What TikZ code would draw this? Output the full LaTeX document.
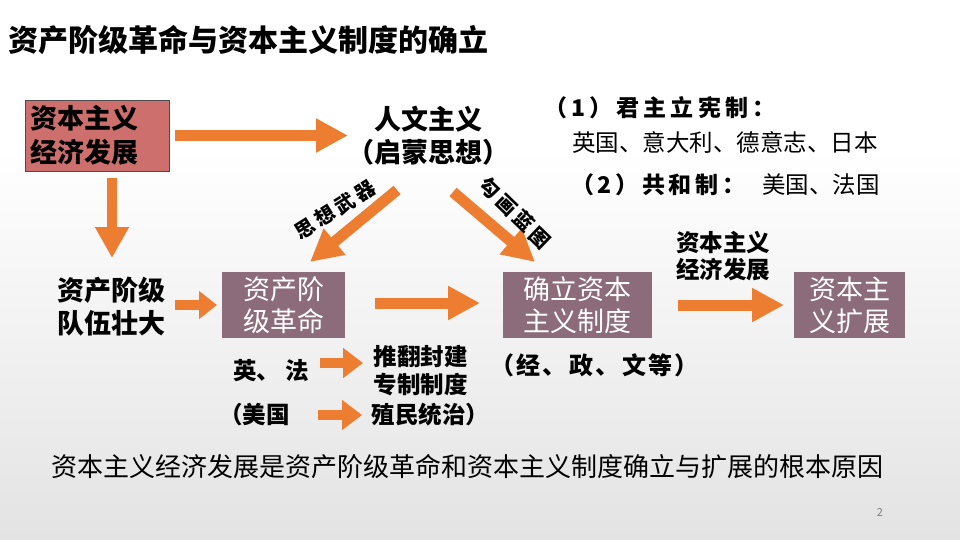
\documentclass[tikz,border=0pt]{standalone}
\usepackage{fontspec}
\newfontfamily\cjk{Noto Sans CJK SC}
\usetikzlibrary{arrows.meta,calc}
\definecolor{arr}{HTML}{ED7D31}
\definecolor{rose}{HTML}{CC6F6D}
\definecolor{mauve}{HTML}{8C6B7B}
\newcommand{\fs}[2]{\fontsize{#1}{#2}\selectfont}
\begin{document}
\begin{tikzpicture}[x=1pt,y=-1pt,
  every node/.style={font=\cjk, inner sep=0pt},
  barrow/.style={draw=arr, line width=11pt, -{Triangle[length=32pt,width=32pt]}},
  sarrow/.style={draw=arr, line width=10pt, -{Triangle[length=20pt,width=29pt]}},
  rosebox/.style={fill=rose, draw=black!70, line width=0.8pt},
  mbox/.style={fill=mauve, text=white, align=center, minimum height=66pt, font=\cjk\fs{27}{32}},
  bigbold/.style={font=\cjk\bfseries\fs{27}{33}, align=center},
  midbold/.style={font=\cjk\bfseries\fs{23.5}{28}, align=center},
  midreg/.style={font=\cjk\fs{23.5}{28}},
  diaglab/.style={font=\cjk\bfseries\fs{20}{24}\addfontfeature{LetterSpace=18}}
]
\useasboundingbox (0,0) rectangle (960,540);
\fill[white] (0,0) rectangle (960,150);
\shade[top color=white, bottom color=gray!22] (0,150) rectangle (960,540);

% title
\node[anchor=west, font=\cjk\bfseries\fs{30}{34}] (title) at (8,40) {资产阶级革命与资本主义制度的确立};

% main nodes
\node[rosebox, minimum width=144pt, minimum height=71pt, text width=134pt, inner xsep=5pt, align=left, font=\cjk\bfseries\fs{27}{34}] (b1) at (97,135.5) {资本主义\\经济发展};
\node[bigbold] (hum) at (428,135.5) {人文主义\\（启蒙思想）};
\node[bigbold] (bourg) at (111,306.5) {资产阶级\\队伍壮大};
\node[mbox, minimum width=123pt] (b2) at (283.5,305) {资产阶\\级革命};
\node[mbox, minimum width=149pt] (b3) at (577.5,305) {确立资本\\主义制度};
\node[mbox, minimum width=111pt] (b4) at (849.5,305) {资本主\\义扩展};
\node[font=\cjk\bfseries\fs{23.5}{27}, align=center] (lab) at (723,256.5) {资本主义\\经济发展};

% right texts
\node[anchor=west, font=\cjk\bfseries\fs{23}{28}\addfontfeature{LetterSpace=18}] (jz) at (544,108) {（1）君主立宪制：};
\node[midreg] (jzc) at (725,142) {英国、意大利、德意志、日本};
\node[anchor=west, font=\cjk\bfseries\fs{23}{28}\addfontfeature{LetterSpace=16}] (gh) at (571,185) {（2）共和制：};
\node[midreg, anchor=west] (ghc) at (762,185) {美国、法国};

% lower texts
\node[midbold] (yf) at (271,371) {英、\hspace{5pt}法};
\node[midbold] (tf) at (420.5,371) {推翻封建\\专制制度};
\node[font=\cjk\bfseries\fs{24}{28}\addfontfeature{LetterSpace=8}] (jz2) at (594.5,365) {（经、\hspace{3pt}政、\hspace{3pt}文等）};
\node[midbold] (mg) at (254.5,415) {（美国};
\node[midbold] (zm) at (430.5,415) {殖民统治）};

% bottom
\node[font=\cjk\fs{26}{30}] (concl) at (467,467) {资本主义经济发展是资产阶级革命和资本主义制度确立与扩展的根本原因};
\node[font=\cjk\fs{11}{13}, text=gray] (pg) at (880,513) {2};

% arrows
\draw[barrow] ($(b1.center)+(78,0)$) -- ($(hum.center)+(-80,0)$);
\draw[draw=arr, line width=10pt, -{Triangle[length=31pt,width=32pt]}] ($(b1.center)+(15,42.5)$) -- ($(bourg.center)+(1,-48.5)$);
\draw[draw=arr, line width=10pt, -{Triangle[length=18pt,width=27pt]}] ($(bourg.center)+(64,-1.5)$) -- ($(b2.center)+(-66.5,0)$);
\draw[barrow] ($(b2.center)+(91.5,-2)$) -- ($(b3.center)+(-97.5,-2)$);
\draw[barrow] ($(b3.center)+(100.5,0)$) -- ($(b4.center)+(-65.5,0)$);
\draw[barrow] ($(hum.center)+(-31,54.5)$) -- ($(b2.center)+(26.5,-43)$);
\draw[barrow] ($(hum.center)+(25,56.5)$) -- ($(b3.center)+(-42.5,-43)$);
\draw[sarrow] ($(yf.center)+(49,-8)$) -- ($(tf.center)+(-57.5,-8)$);
\draw[sarrow] ($(mg.center)+(63.5,0)$) -- ($(zm.center)+(-68.5,0)$);

% diagonal labels
\node[diaglab, rotate=32] (lw) at (335,210) {思想武器};
\node[diaglab, rotate=-44] (lg) at (515,213) {勾画蓝图};
\end{tikzpicture}
\end{document}
